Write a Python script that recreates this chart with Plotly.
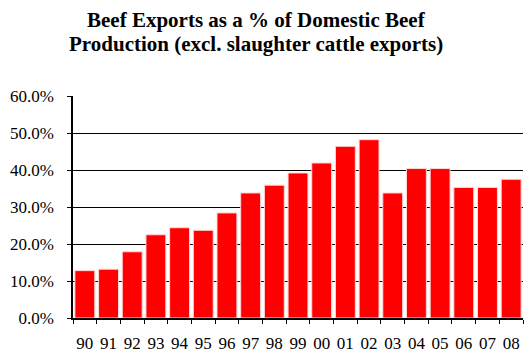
import plotly.graph_objects as go

years = ["90", "91", "92", "93", "94", "95", "96", "97", "98", "99",
         "00", "01", "02", "03", "04", "05", "06", "07", "08"]
export_share = [12.8, 13.2, 17.9, 22.5, 24.4, 23.7, 28.4, 33.8, 35.9, 39.2,
                41.9, 46.4, 48.2, 33.8, 40.4, 40.4, 35.3, 35.3, 37.5]
y_ticks = [0, 10, 20, 30, 40, 50, 60]
y_tick_labels = ["0.0%", "10.0%", "20.0%", "30.0%", "40.0%", "50.0%", "60.0%"]
title_lines = ["Beef Exports as a % of Domestic Beef",
               "Production (excl. slaughter cattle exports)"]

fig = go.Figure(go.Bar(
    x=years, y=export_share,
    marker=dict(color="#ff0000", line=dict(color="#ffd6d6", width=1)),
))

font = "Liberation Serif, Times New Roman, serif"
H = 354
W = 526
for i, (line, yc) in enumerate(zip(title_lines, [19.5, 43.5])):
    fig.add_annotation(
        text="<b>" + line + "</b>", showarrow=False,
        xref="paper", yref="paper",
        x=(256 - 73) / (W - 73 - 3), xanchor="center",
        y=1 + (96 - yc) / (H - 96 - 36), yanchor="middle",
        font=dict(family=font, size=21, color="black"),
    )

fig.update_layout(
    width=W, height=H,
    margin=dict(l=73, r=3, t=96, b=36),
    paper_bgcolor="white", plot_bgcolor="white",
    bargap=0.16,
    showlegend=False,
    font=dict(family=font, color="black"),
    xaxis=dict(
        type="category",
        tickson="boundaries",
        ticks="outside", ticklen=4, tickcolor="black",
        showline=True, linecolor="black", linewidth=1.5,
        showgrid=False, tickangle=0, automargin=False,
        tickfont=dict(family=font, size=17, color="black"),
        ticklabelstandoff=9,
    ),
    yaxis=dict(
        range=[0, 60], automargin=False,
        tickvals=y_ticks, ticktext=y_tick_labels,
        ticks="outside", ticklen=4, tickcolor="black",
        showline=True, linecolor="black", linewidth=1.5,
        showgrid=True, gridcolor="black", gridwidth=1,
        zeroline=False,
        tickfont=dict(family=font, size=17, color="black"),
        ticklabelstandoff=10,
    ),
)

fig.write_html("out.html", config={"displayModeBar": False},
               post_script="document.body.style.margin='0px';")
